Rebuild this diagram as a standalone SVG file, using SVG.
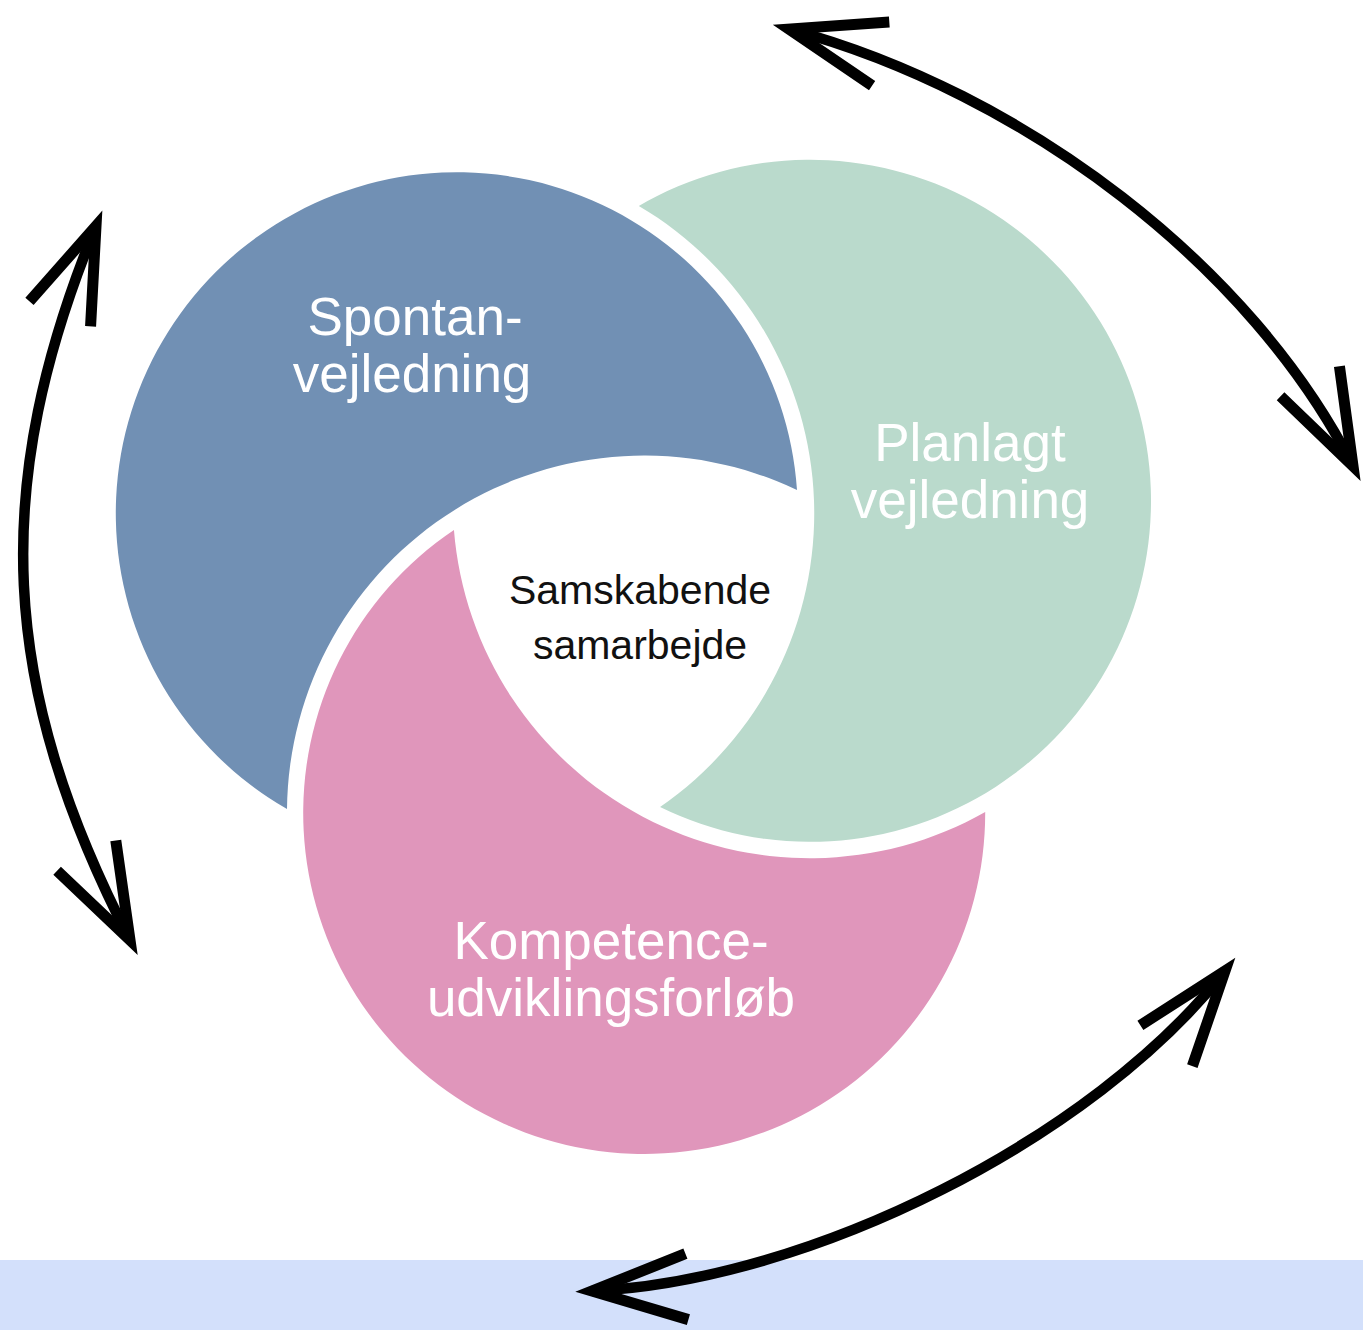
<svg xmlns="http://www.w3.org/2000/svg" width="1363" height="1330" viewBox="0 0 1363 1330">
  <style>
    .lbl { font-family: "Liberation Sans", Arial, sans-serif; font-size: 53px; fill: #ffffff; text-anchor: middle; }
    .ctr { font-family: "Liberation Sans", Arial, sans-serif; font-size: 41px; fill: #111111; text-anchor: middle; }
    .arc { fill: none; stroke: #000000; stroke-width: 10.5; marker-start: url(#ah); marker-end: url(#ah); }
  </style>
  <defs>
    <path id="petal" d="M797,490 A341,341 0 1 0 287,809 A357,357 0 0 1 797,490 Z"/>
    <marker id="ah" markerUnits="userSpaceOnUse" markerWidth="160" markerHeight="120" refX="0" refY="0" orient="auto-start-reverse" overflow="visible">
      <path d="M-95,-33 L0,0 L-95,33" fill="none" stroke="#000000" stroke-width="11" stroke-linejoin="miter" stroke-miterlimit="10"/>
    </marker>
  </defs>
  <rect x="0" y="0" width="1363" height="1330" fill="#ffffff"/>
  <rect x="0" y="1260" width="1363" height="70" fill="#d3e0fb"/>

  <g id="node-planlagt">
    <use href="#petal" fill="#badacc" transform="rotate(120 637 609)"/>
    <text class="lbl" x="970" y="461">Planlagt</text>
    <text class="lbl" x="970" y="518">vejledning</text>
  </g>
  <g id="node-spontan">
    <use href="#petal" fill="#7190b4"/>
    <text class="lbl" x="415" y="335">Spontan-</text>
    <text class="lbl" x="412" y="392">vejledning</text>
  </g>
  <g id="node-kompetence">
    <use href="#petal" fill="#e096bb" transform="rotate(240 637 609)"/>
    <text class="lbl" x="611" y="959">Kompetence-</text>
    <text class="lbl" x="611" y="1016">udviklingsforløb</text>
  </g>
  <g id="node-samskabende">
    <text class="ctr" x="640" y="604">Samskabende</text>
    <text class="ctr" x="640" y="659">samarbejde</text>
  </g>

  <g id="connectors">
    <path class="arc" d="M789,29 C1026,93 1252,267 1353,466"/>
    <path class="arc" d="M96,226 C-10.6,486.5 -1,686 130,940"/>
    <path class="arc" d="M1225,971 C1094,1138 811,1281 592,1291"/>
  </g>
</svg>
